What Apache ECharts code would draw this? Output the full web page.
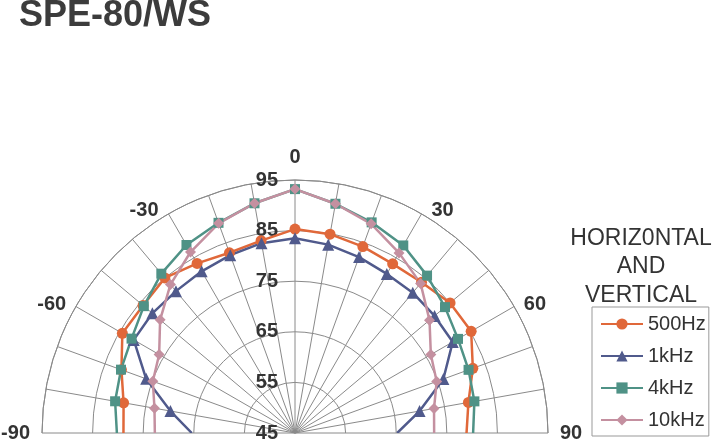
<!DOCTYPE html>
<html><head><meta charset="utf-8">
<script src="https://cdn.jsdelivr.net/npm/echarts@6/dist/echarts.min.js"></script>
<style>html,body{margin:0;padding:0;background:#fff}#c{width:720px;height:444px}</style>
</head><body><div id="c"></div>
<script>
// ---- data ----
const angles = [-90, -80, -70, -60, -50, -40, -30, -20, -10, 0, 10, 20, 30, 40, 50, 60, 70, 80, 90];
const s500Hz = [78.9, 79.4, 81.5, 84.4, 84.2, 85.0, 83.7, 82.9, 83.6, 85.3, 84.9, 84.2, 83.6, 83.9, 85.0, 85.2, 82.4, 79.8, 78.9];
const s1kHz  = [65.4, 70.0, 76.3, 81.8, 81.8, 81.6, 81.9, 82.4, 83.1, 83.5, 82.8, 82.0, 81.3, 81.2, 81.0, 81.0, 76.2, 70.0, 65.2];
const s4kHz  = [80.2, 81.1, 81.6, 82.3, 84.0, 86.1, 87.9, 89.2, 91.1, 93.2, 91.0, 89.3, 87.8, 85.6, 83.7, 82.2, 81.5, 81.0, 80.2];
const s10kHz = [72.7, 73.2, 74.9, 76.0, 79.8, 83.3, 86.3, 89.1, 91.1, 93.2, 91.0, 89.0, 86.1, 83.6, 79.7, 76.0, 74.8, 72.9, 72.5];
const seriesNames = ['500Hz', '1kHz', '4kHz', '10kHz'];
const radiusMin = 45, radiusMax = 95, radiusStep = 10;
const angleLabelStep = 30;
const titleText = 'SPE-80/WS';
const legendTitle = 'HORIZ0NTAL\nAND\nVERTICAL';

const FONT = '"Liberation Sans", Arial, Helvetica, sans-serif';
const GRID = '#8a8a8a';
const CENTER = [295, 433];
const RADIUS = 253;

function build(vals) {
  return vals.map(function (v, i) {
    const d = { value: [v, angles[i]] };
    if (i === 0 || i === vals.length - 1) d.symbol = 'none';
    return d;
  });
}

const styles = [
  { color: '#E0683A', symbol: 'circle', size: 11 },
  { color: '#505A8C', symbol: 'triangle', size: 12 },
  { color: '#4F9286', symbol: 'rect', size: 10 },
  { color: '#C490A0', symbol: 'diamond', size: 11 }
];
const values = [s500Hz, s1kHz, s4kHz, s10kHz];

const labelBase = { fontSize: 20, fontWeight: 'bold', color: '#333', fontFamily: FONT };
const chart = echarts.init(document.getElementById('c'));
chart.setOption({
  animation: false,
  backgroundColor: '#fff',
  title: {
    text: titleText, left: 19, top: -2, padding: 0,
    textStyle: { fontSize: 36, fontWeight: 'bold', color: '#3c3c3c', fontFamily: FONT }
  },
  graphic: [{
    type: 'text', x: 641, y: 224, z: 10,
    style: { text: legendTitle, align: 'center', verticalAlign: 'top', fontSize: 23, lineHeight: 28.5,
      fill: '#333', fontFamily: FONT }
  }],
  legend: {
    data: seriesNames, orient: 'vertical', left: 592, top: 307,
    padding: [7, 3, 6, 8], itemWidth: 42, itemHeight: 14, itemGap: 12,
    borderColor: '#999', borderWidth: 1,
    textStyle: { fontSize: 20, color: '#333', fontFamily: FONT }
  },
  polar: [
    { center: CENTER, radius: [0, RADIUS] },
    { center: CENTER, radius: [0, RADIUS] }
  ],
  angleAxis: [{
    polarIndex: 0, type: 'value', min: -90, max: 90, interval: 10,
    startAngle: 180, endAngle: 0, clockwise: true,
    axisLine: { show: true, lineStyle: { color: GRID, width: 1 } },
    axisTick: { show: false },
    splitLine: { show: true, lineStyle: { color: GRID, width: 1 } },
    axisLabel: Object.assign({
      margin: 10,
      formatter: function (v) {
        if (v % angleLabelStep !== 0) return '';
        return '{p' + Math.abs(v) + '|' + v + '}';
      },
      rich: {
        p0: Object.assign({ padding: [0, 0, 3, 0] }, labelBase),
        p30: Object.assign({ padding: [0, 5, -15, 5] }, labelBase),
        p60: Object.assign({ padding: [0, 1, -13, 1] }, labelBase),
        p90: Object.assign({ padding: [0, 2, -1, 2] }, labelBase)
      }
    }, labelBase)
  }, {
    polarIndex: 1, type: 'value', min: 0, max: 360, startAngle: 90, show: false
  }],
  radiusAxis: [{
    polarIndex: 0, type: 'value', min: radiusMin, max: radiusMax, interval: radiusStep,
    axisLine: { show: false }, axisTick: { show: false }, axisLabel: { show: false },
    splitLine: { show: true, lineStyle: { color: GRID, width: 1 } }
  }, {
    polarIndex: 1, type: 'value', min: radiusMin, max: radiusMax, interval: radiusStep,
    axisLine: { show: false }, axisTick: { show: false }, splitLine: { show: false },
    axisLabel: Object.assign({ margin: 17 }, labelBase)
  }],
  series: seriesNames.map(function (name, k) {
    return {
      name: name, type: 'line', coordinateSystem: 'polar', polarIndex: 0,
      data: build(values[k]),
      symbol: styles[k].symbol, symbolSize: styles[k].size,
      lineStyle: { width: 2.5, color: styles[k].color },
      itemStyle: { color: styles[k].color },
      emphasis: { disabled: true }
    };
  })
});
</script>
</body></html>
